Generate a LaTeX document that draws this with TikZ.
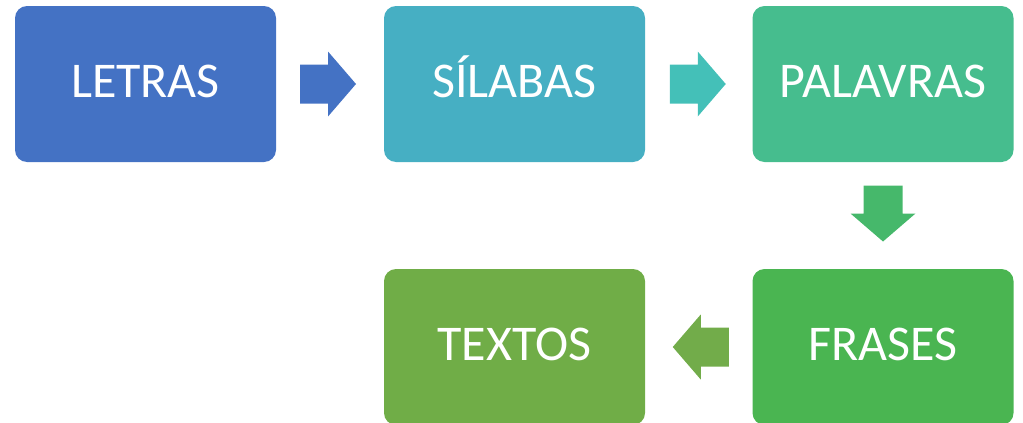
\documentclass[tikz,border=0pt]{standalone}
\usepackage{fontspec}
\setmainfont{Carlito}
\usetikzlibrary{calc}
\definecolor{cLetras}{HTML}{4472C4}
\definecolor{cSilabas}{HTML}{46AFC3}
\definecolor{cPalavras}{HTML}{46BD8E}
\definecolor{cFrases}{HTML}{4AB551}
\definecolor{cTextos}{HTML}{70AD47}
\definecolor{aOne}{HTML}{4472C4}
\definecolor{aTwo}{HTML}{44C0B8}
\definecolor{aThree}{HTML}{46B86B}
\definecolor{aFour}{HTML}{72AC4A}
\tikzset{
  stagebox/.style={rounded corners=12pt, minimum width=261pt, minimum height=156pt,
    inner sep=0pt, text=white, font=\fontsize{50}{60}\selectfont,
    text height=32pt, text depth=5pt},
  pics/blockarrow/.style={code={
    \path[pic actions] (-28,-19.5) -- (0,-19.5) -- (0,-32.5) -- (28,0) -- (0,32.5)
      -- (0,19.5) -- (-28,19.5) -- cycle;}}
}
\begin{document}
\begin{tikzpicture}[x=1pt,y=-1pt]
\useasboundingbox (0,0) rectangle (1023,423);
\node[stagebox, fill=cLetras]   (letras)   at (145.5,84)  {LETRAS};
\node[stagebox, fill=cSilabas]  (silabas)  at (514.5,84)  {SÍLABAS};
\node[stagebox, fill=cPalavras] (palavras) at (883,84)    {PALAVRAS};
\node[stagebox, fill=cFrases]   (frases)   at (883,347)   {FRASES};
\node[stagebox, fill=cTextos]   (textos)   at (514.5,347) {TEXTOS};
\coordinate (m1) at ($(letras.east)!0.5!(silabas.west)$);
\coordinate (m2) at ($(silabas.east)!0.5!(palavras.west)$);
\coordinate (m3) at ($(palavras.south)!0.5!(frases.north)$);
\coordinate (m4) at ($(frases.west)!0.5!(textos.east)$);
\pic[fill=aOne] at ([xshift=-2pt]m1) {blockarrow};
\pic[fill=aTwo] at ([xshift=-1pt]m2) {blockarrow};
\pic[fill=aThree, rotate=-90] at ([yshift=2pt]m3) {blockarrow};
\pic[fill=aFour, rotate=180] at ([xshift=2pt]m4) {blockarrow};
\end{tikzpicture}
\end{document}
